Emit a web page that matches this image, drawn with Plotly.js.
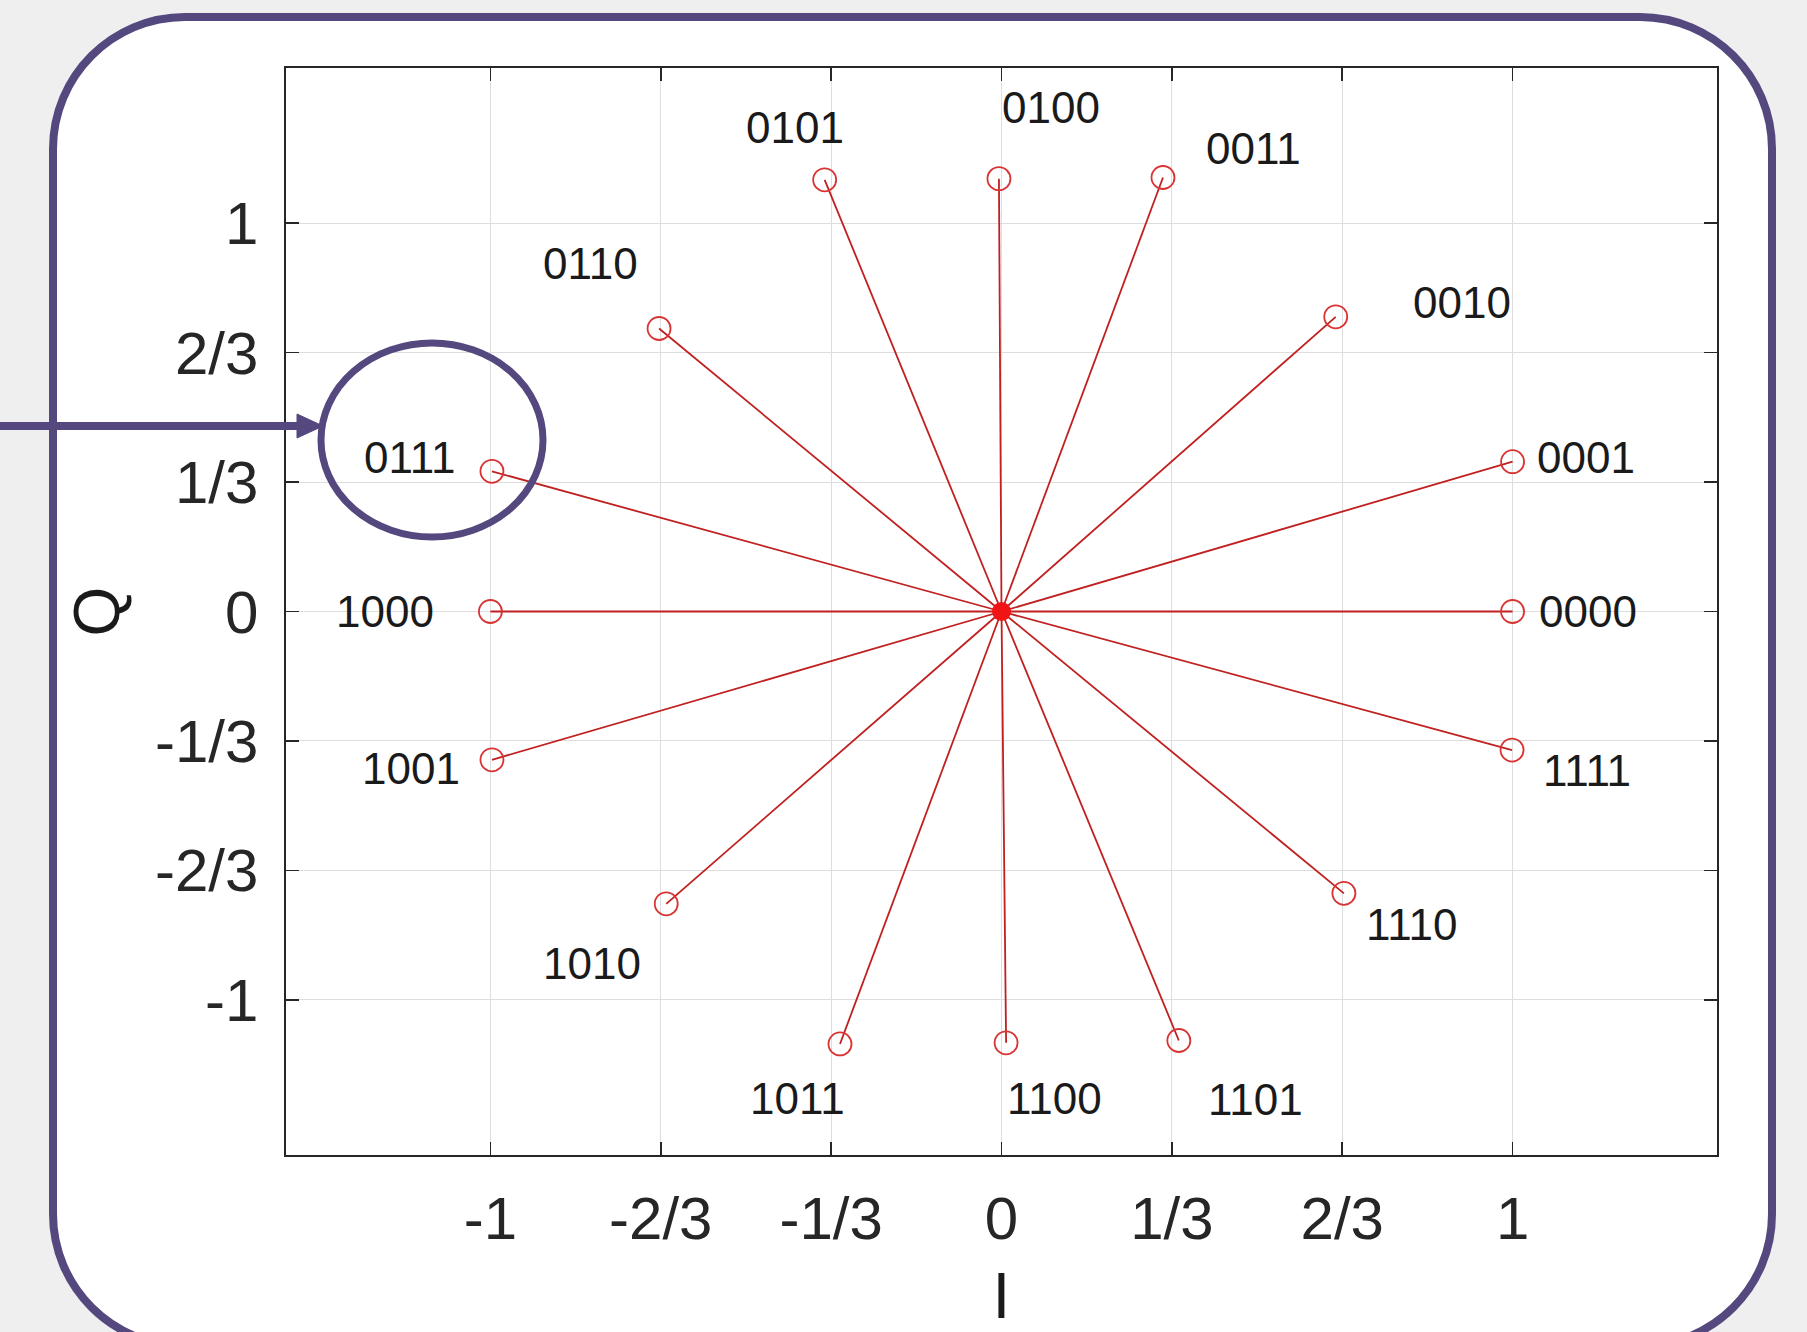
<!DOCTYPE html>
<html>
<head>
<meta charset="utf-8">
<script src="https://cdn.plot.ly/plotly-3.0.1.min.js"></script>
<style>
  html, body { margin: 0; padding: 0; background: #efefef; }
  #chart { width: 1807px; height: 1332px; }
</style>
</head>
<body>
<div id="chart"></div>
<script>
// ---- data ----
const symbols = ['0000','0001','0010','0011','0100','0101','0110','0111',
                 '1000','1001','1010','1011','1100','1101','1110','1111'];
const iValues = [1.000, 1.000, 0.654, 0.316, -0.005, -0.346, -0.670, -0.997,
                 -1.000, -0.997, -0.656, -0.316, 0.009, 0.347, 0.670, 0.999];
const qValues = [0.000, 0.386, 0.759, 1.118, 1.115, 1.112, 0.729, 0.361,
                 0.000, -0.382, -0.753, -1.114, -1.111, -1.105, -0.726, -0.357];
const originI = [0];
const originQ = [0];
const tickVals = [-1, -2/3, -1/3, 0, 1/3, 2/3, 1];
const tickText = ['-1', '-2/3', '-1/3', '0', '1/3', '2/3', '1'];

// label offsets in pixels (style: where each text sits relative to its point)
const labelShift = [
  [75, 0], [73, 4], [126, 14], [90, 29], [52, 71], [-30, 52], [-69, 65], [-82, 14],
  [-105, 0], [-81, -9], [-74, -60], [-43, -55], [48, -56], [77, -59], [68, -31], [75, -20]
];

// ---- layout geometry (pixels) ----
const W = 1807, H = 1332;
const M = {l: 286, r: 90, t: 68, b: 177};
const PW = W - M.l - M.r, PH = H - M.t - M.b;
const px = x => (x - M.l) / PW;          // pixel -> paper x
const py = y => (H - M.b - y) / PH;      // pixel -> paper y

const purple = '#54487f';

// spokes from origin to each point
const spokeX = [], spokeY = [];
for (let k = 0; k < symbols.length; k++) {
  spokeX.push(originI[0], iValues[k], null);
  spokeY.push(originQ[0], qValues[k], null);
}

const traces = [
  {
    type: 'scatter', mode: 'lines', x: spokeX, y: spokeY,
    line: {color: '#c02020', width: 1.8}, hoverinfo: 'skip', showlegend: false
  },
  {
    type: 'scatter', mode: 'markers', x: iValues, y: qValues, text: symbols,
    marker: {symbol: 'circle-open', size: 23, color: '#d83434', line: {width: 1.8, color: '#d83434'}},
    showlegend: false
  },
  {
    type: 'scatter', mode: 'markers', x: originI, y: originQ,
    marker: {symbol: 'circle', size: 19, color: '#f01414'}, showlegend: false, hoverinfo: 'skip'
  }
];

const annotations = symbols.map((s, k) => ({
  x: iValues[k], y: qValues[k], xref: 'x', yref: 'y',
  text: s, showarrow: false,
  xshift: labelShift[k][0], yshift: labelShift[k][1],
  xanchor: 'center', yanchor: 'middle',
  font: {family: 'Liberation Sans, Arial, sans-serif', size: 44, color: '#1a1a1a'}
}));

// rounded frame path (pixel coords -> paper)
function roundedRect(x0, y0, x1, y1, r) {
  const k = 0.5523 * r;
  const P = (x, y) => px(x).toFixed(5) + ',' + py(y).toFixed(5);
  return 'M' + P(x0 + r, y0) +
    ' L' + P(x1 - r, y0) +
    ' C' + P(x1 - r + k, y0) + ' ' + P(x1, y0 + r - k) + ' ' + P(x1, y0 + r) +
    ' L' + P(x1, y1 - r) +
    ' C' + P(x1, y1 - r + k) + ' ' + P(x1 - r + k, y1) + ' ' + P(x1 - r, y1) +
    ' L' + P(x0 + r, y1) +
    ' C' + P(x0 + r - k, y1) + ' ' + P(x0, y1 - r + k) + ' ' + P(x0, y1 - r) +
    ' L' + P(x0, y0 + r) +
    ' C' + P(x0, y0 + r - k) + ' ' + P(x0 + r - k, y0) + ' ' + P(x0 + r, y0) + ' Z';
}

const shapes = [
  {
    type: 'path', xref: 'paper', yref: 'paper', layer: 'below',
    path: roundedRect(53, 17, 1772, 1346, 132),
    fillcolor: '#ffffff', line: {color: purple, width: 8}
  },
  // arrow shaft
  {
    type: 'line', xref: 'paper', yref: 'paper', layer: 'above',
    x0: px(0), x1: px(302), y0: py(426), y1: py(426),
    line: {color: purple, width: 8}
  },
  // arrow head
  {
    type: 'path', xref: 'paper', yref: 'paper', layer: 'above',
    path: 'M' + px(297) + ',' + py(414) + ' L' + px(323) + ',' + py(426) + ' L' + px(297) + ',' + py(438) + ' Z',
    fillcolor: purple, line: {color: purple, width: 1}
  },
  // highlight ellipse around 0111
  {
    type: 'circle', xref: 'paper', yref: 'paper', layer: 'above',
    x0: px(321), x1: px(543), y0: py(343), y1: py(537),
    line: {color: purple, width: 7}
  }
];

const axisCommon = {
  range: [-1.4, 1.4],
  tickvals: tickVals, ticktext: tickText,
  showgrid: true, gridcolor: '#dedede', gridwidth: 1,
  zeroline: false,
  showline: true, linecolor: '#262626', linewidth: 1.6, mirror: 'ticks',
  ticks: 'inside', ticklen: 13, tickcolor: '#262626', tickwidth: 1.6,
  tickfont: {family: 'Liberation Sans, Arial, sans-serif', size: 60, color: '#262626'},
  fixedrange: true
};

const layout = {
  width: W, height: H,
  margin: M,
  paper_bgcolor: '#efefef',
  plot_bgcolor: '#ffffff',
  showlegend: false,
  xaxis: Object.assign({}, axisCommon, {
    title: {text: 'I', standoff: 46, font: {family: 'Liberation Sans, Arial, sans-serif', size: 64, color: '#1a1a1a'}},
    ticklabelstandoff: 10
  }),
  yaxis: Object.assign({}, axisCommon, {
    title: {text: 'Q', standoff: 14, font: {family: 'Liberation Sans, Arial, sans-serif', size: 64, color: '#1a1a1a'}},
    ticklabelstandoff: 14
  }),
  annotations: annotations,
  shapes: shapes
};

Plotly.newPlot('chart', traces, layout, {displayModeBar: false, staticPlot: true});
</script>
</body>
</html>
